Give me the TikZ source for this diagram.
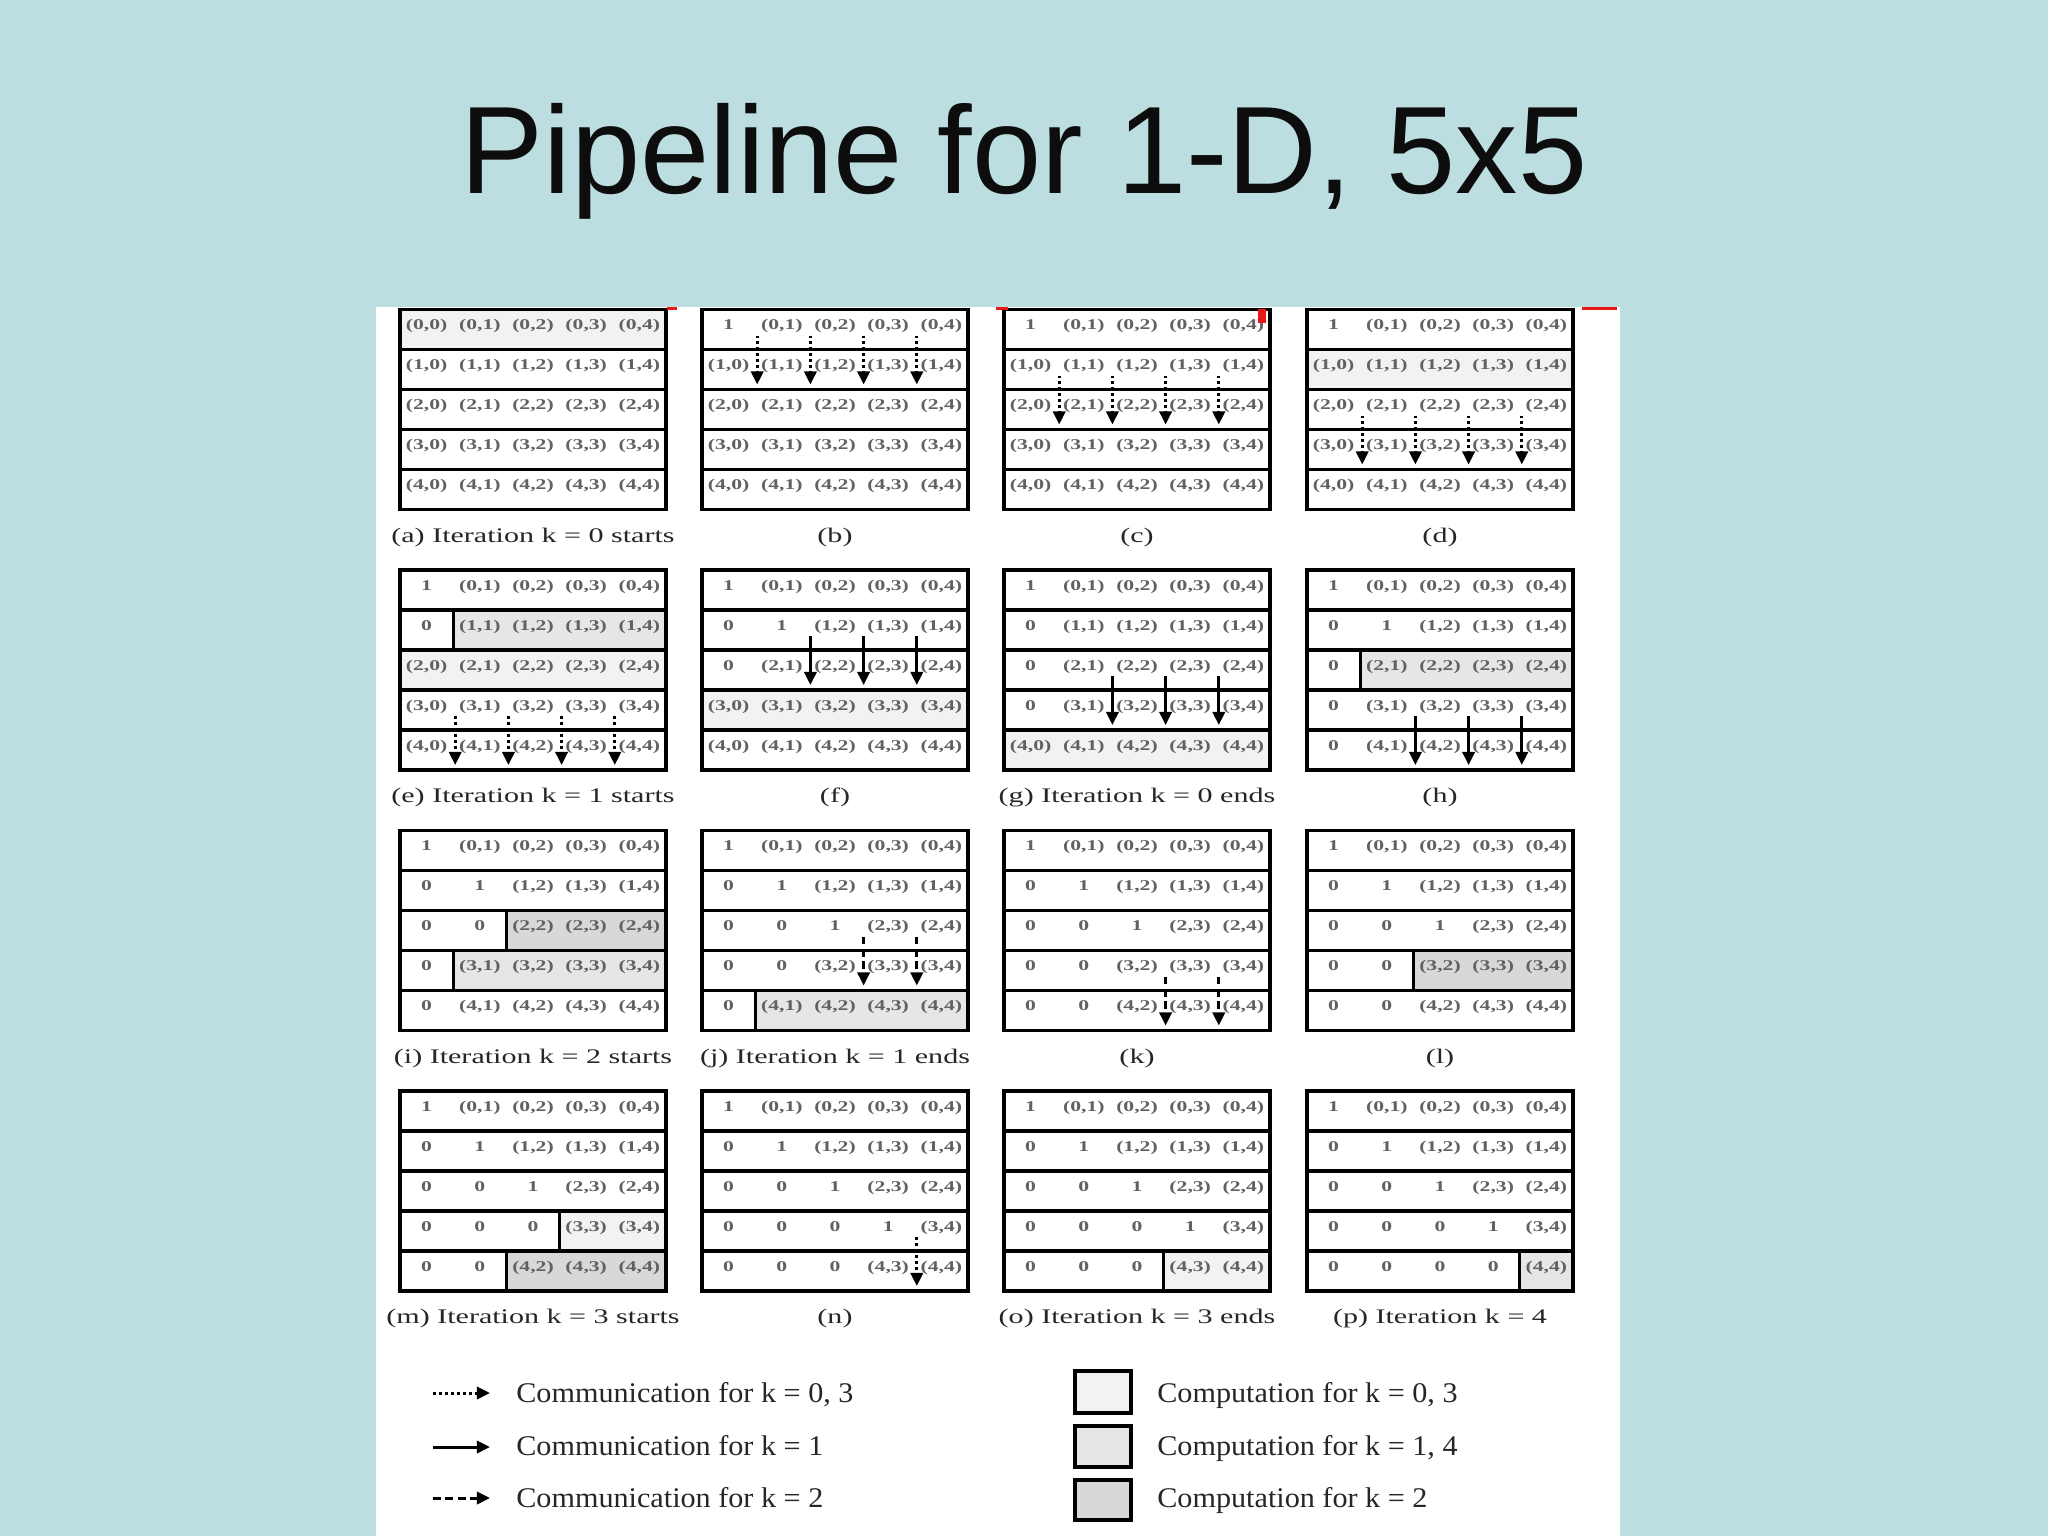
\documentclass[tikz,border=0pt]{standalone}
\usepackage{fontspec}
\setmainfont{Liberation Serif}
\newfontfamily\titlefont{Liberation Sans}
\newfontfamily\cellfont[FakeStretch=1.45]{Liberation Serif}
\newfontfamily\legfont[FakeStretch=1.06]{Liberation Serif}
\usetikzlibrary{arrows.meta}
\definecolor{bgblue}{RGB}{188,222,225}
\definecolor{compA}{RGB}{242,242,242}
\definecolor{compB}{RGB}{230,230,230}
\definecolor{compC}{RGB}{216,216,216}
\definecolor{artred}{RGB}{232,24,24}
\tikzset{
  gridline/.style={line width=1.8pt, black},
  cell/.style={font=\cellfont\bfseries\fontsize{8.5}{10}\selectfont, text=black!62, inner sep=0pt, anchor=base},
  caption/.style={font=\cellfont\fontsize{11.8}{14}\selectfont, text=black!85, inner sep=0pt, anchor=base},
  legtext/.style={font=\legfont\fontsize{16.2}{19}\selectfont, text=black!85, inner sep=0pt, anchor=base west},
  titletext/.style={font=\titlefont\fontsize{70.8}{80}\selectfont, text=black!95, inner sep=0pt, anchor=base},
  comm/.style={line width=1.7pt, -{Triangle[width=7pt,length=7.5pt]}},
  commdot/.style={comm, dash pattern=on 1.7pt off 1.7pt},
  commsolid/.style={comm},
  commdash/.style={comm, dash pattern=on 4.5pt off 2.5pt},
  legbox/.style={line width=1.8pt, draw=black},
}
% row: #1 row index, #2 codes, #3 first shaded column (5 = none), #4 shade colour
\newcommand\prow[4]{%
  \ifnum#3<5 \fill[#4] (#3*53.2,#1*40) rectangle (266,#1*40+40);\fi
  \ifnum#3>0 \ifnum#3<5 \draw[gridline] (#3*53.2,#1*40) -- (#3*53.2,#1*40+40);\fi\fi
  \foreach \t [count=\c from 0] in {#2} {%
    \if c\t \def\lab{(#1,\c)}\else \let\lab\t\fi
    \node[cell] (\pn-#1-\c) at (\c*53.2+26.6,#1*40+20) {\lab};
  }}
% arrow: #1 style, #2 from row, #3 column boundary
\newcommand\parr[3]{%
  \coordinate (\pn-s#2#3) at (#3*53.2+2,#2*40+26);
  \coordinate (\pn-e#2#3) at (#3*53.2+2,#2*40+75);
  \draw[#1] (\pn-s#2#3) -- (\pn-e#2#3);}
\newcommand\panel[5]{%
  \begin{scope}[shift={(#2,#3)}]
    \def\pn{#1}%
    #5
    \draw[gridline] (0,0) rectangle (266,200);
    \foreach \r in {1,2,3,4} {\draw[gridline] (0,\r*40) -- (266,\r*40);}
    \node[caption] (#1-cap) at (133,232.5) {#4};
  \end{scope}}
\begin{document}
\begin{tikzpicture}[x=0.02cm,y=-0.02cm]
\useasboundingbox (0,0) rectangle (2048,1536);
\fill[bgblue] (0,0) rectangle (2048,1536);
\fill[white] (376,307) rectangle (1620,1536);
\node[titletext] (title) at (1024,193) {Pipeline for 1-D, 5x5};

% ---- row 1
\panel{a}{400}{309.5}{(a) Iteration k = 0 starts}{%
  \prow{0}{c,c,c,c,c}{0}{compA}\prow{1}{c,c,c,c,c}{5}{}\prow{2}{c,c,c,c,c}{5}{}%
  \prow{3}{c,c,c,c,c}{5}{}\prow{4}{c,c,c,c,c}{5}{}}
\panel{b}{702}{309.5}{(b)}{%
  \prow{0}{1,c,c,c,c}{5}{}\prow{1}{c,c,c,c,c}{5}{}\prow{2}{c,c,c,c,c}{5}{}%
  \prow{3}{c,c,c,c,c}{5}{}\prow{4}{c,c,c,c,c}{5}{}%
  \parr{commdot}{0}{1}\parr{commdot}{0}{2}\parr{commdot}{0}{3}\parr{commdot}{0}{4}}
\panel{c}{1004}{309.5}{(c)}{%
  \prow{0}{1,c,c,c,c}{5}{}\prow{1}{c,c,c,c,c}{5}{}\prow{2}{c,c,c,c,c}{5}{}%
  \prow{3}{c,c,c,c,c}{5}{}\prow{4}{c,c,c,c,c}{5}{}%
  \parr{commdot}{1}{1}\parr{commdot}{1}{2}\parr{commdot}{1}{3}\parr{commdot}{1}{4}}
\panel{d}{1307}{309.5}{(d)}{%
  \prow{0}{1,c,c,c,c}{5}{}\prow{1}{c,c,c,c,c}{0}{compA}\prow{2}{c,c,c,c,c}{5}{}%
  \prow{3}{c,c,c,c,c}{5}{}\prow{4}{c,c,c,c,c}{5}{}%
  \parr{commdot}{2}{1}\parr{commdot}{2}{2}\parr{commdot}{2}{3}\parr{commdot}{2}{4}}
% ---- row 2
\panel{e}{400}{570}{(e) Iteration k = 1 starts}{%
  \prow{0}{1,c,c,c,c}{5}{}\prow{1}{0,c,c,c,c}{1}{compB}\prow{2}{c,c,c,c,c}{0}{compA}%
  \prow{3}{c,c,c,c,c}{5}{}\prow{4}{c,c,c,c,c}{5}{}%
  \parr{commdot}{3}{1}\parr{commdot}{3}{2}\parr{commdot}{3}{3}\parr{commdot}{3}{4}}
\panel{f}{702}{570}{(f)}{%
  \prow{0}{1,c,c,c,c}{5}{}\prow{1}{0,1,c,c,c}{5}{}\prow{2}{0,c,c,c,c}{5}{}%
  \prow{3}{c,c,c,c,c}{0}{compA}\prow{4}{c,c,c,c,c}{5}{}%
  \parr{commsolid}{1}{2}\parr{commsolid}{1}{3}\parr{commsolid}{1}{4}}
\panel{g}{1004}{570}{(g) Iteration k = 0 ends}{%
  \prow{0}{1,c,c,c,c}{5}{}\prow{1}{0,c,c,c,c}{5}{}\prow{2}{0,c,c,c,c}{5}{}%
  \prow{3}{0,c,c,c,c}{5}{}\prow{4}{c,c,c,c,c}{0}{compA}%
  \parr{commsolid}{2}{2}\parr{commsolid}{2}{3}\parr{commsolid}{2}{4}}
\panel{h}{1307}{570}{(h)}{%
  \prow{0}{1,c,c,c,c}{5}{}\prow{1}{0,1,c,c,c}{5}{}\prow{2}{0,c,c,c,c}{1}{compB}%
  \prow{3}{0,c,c,c,c}{5}{}\prow{4}{0,c,c,c,c}{5}{}%
  \parr{commsolid}{3}{2}\parr{commsolid}{3}{3}\parr{commsolid}{3}{4}}
% ---- row 3
\panel{i}{400}{830.5}{(i) Iteration k = 2 starts}{%
  \prow{0}{1,c,c,c,c}{5}{}\prow{1}{0,1,c,c,c}{5}{}\prow{2}{0,0,c,c,c}{2}{compC}%
  \prow{3}{0,c,c,c,c}{1}{compB}\prow{4}{0,c,c,c,c}{5}{}}
\panel{j}{702}{830.5}{(j) Iteration k = 1 ends}{%
  \prow{0}{1,c,c,c,c}{5}{}\prow{1}{0,1,c,c,c}{5}{}\prow{2}{0,0,1,c,c}{5}{}%
  \prow{3}{0,0,c,c,c}{5}{}\prow{4}{0,c,c,c,c}{1}{compB}%
  \parr{commdash}{2}{3}\parr{commdash}{2}{4}}
\panel{k}{1004}{830.5}{(k)}{%
  \prow{0}{1,c,c,c,c}{5}{}\prow{1}{0,1,c,c,c}{5}{}\prow{2}{0,0,1,c,c}{5}{}%
  \prow{3}{0,0,c,c,c}{5}{}\prow{4}{0,0,c,c,c}{5}{}%
  \parr{commdash}{3}{3}\parr{commdash}{3}{4}}
\panel{l}{1307}{830.5}{(l)}{%
  \prow{0}{1,c,c,c,c}{5}{}\prow{1}{0,1,c,c,c}{5}{}\prow{2}{0,0,1,c,c}{5}{}%
  \prow{3}{0,0,c,c,c}{2}{compC}\prow{4}{0,0,c,c,c}{5}{}}
% ---- row 4
\panel{m}{400}{1091}{(m) Iteration k = 3 starts}{%
  \prow{0}{1,c,c,c,c}{5}{}\prow{1}{0,1,c,c,c}{5}{}\prow{2}{0,0,1,c,c}{5}{}%
  \prow{3}{0,0,0,c,c}{3}{compA}\prow{4}{0,0,c,c,c}{2}{compC}}
\panel{n}{702}{1091}{(n)}{%
  \prow{0}{1,c,c,c,c}{5}{}\prow{1}{0,1,c,c,c}{5}{}\prow{2}{0,0,1,c,c}{5}{}%
  \prow{3}{0,0,0,1,c}{5}{}\prow{4}{0,0,0,c,c}{5}{}%
  \parr{commdot}{3}{4}}
\panel{o}{1004}{1091}{(o) Iteration k = 3 ends}{%
  \prow{0}{1,c,c,c,c}{5}{}\prow{1}{0,1,c,c,c}{5}{}\prow{2}{0,0,1,c,c}{5}{}%
  \prow{3}{0,0,0,1,c}{5}{}\prow{4}{0,0,0,c,c}{3}{compA}}
\panel{p}{1307}{1091}{(p) Iteration k = 4}{%
  \prow{0}{1,c,c,c,c}{5}{}\prow{1}{0,1,c,c,c}{5}{}\prow{2}{0,0,1,c,c}{5}{}%
  \prow{3}{0,0,0,1,c}{5}{}\prow{4}{0,0,0,0,c}{4}{compB}}

% ---- legend
\coordinate (la1) at (433,1393); \coordinate (lb1) at (490,1393);
\coordinate (la2) at (433,1447); \coordinate (lb2) at (490,1447);
\coordinate (la3) at (433,1498); \coordinate (lb3) at (490,1498);
\draw[commdot] (la1) -- (lb1);
\draw[commsolid] (la2) -- (lb2);
\draw[commdash] (la3) -- (lb3);
\node[legtext] (lt1) at (516,1402) {Communication for k = 0, 3};
\node[legtext] (lt2) at (516,1455) {Communication for k = 1};
\node[legtext] (lt3) at (516,1507) {Communication for k = 2};
\draw[legbox, fill=compA] (1075,1371) rectangle (1131,1413);
\draw[legbox, fill=compB] (1075,1426) rectangle (1131,1467);
\draw[legbox, fill=compC] (1075,1480) rectangle (1131,1520);
\node[legtext] (lc1) at (1157,1402) {Computation for k = 0, 3};
\node[legtext] (lc2) at (1157,1455) {Computation for k = 1, 4};
\node[legtext] (lc3) at (1157,1507) {Computation for k = 2};

% ---- small red marks along the top edge
\fill[artred] (667,307) rectangle (677,310);
\fill[artred] (996,307) rectangle (1008,310);
\fill[artred] (1258,309) rectangle (1266,323);
\fill[artred] (1582,307) rectangle (1617,310);
\end{tikzpicture}
\end{document}
